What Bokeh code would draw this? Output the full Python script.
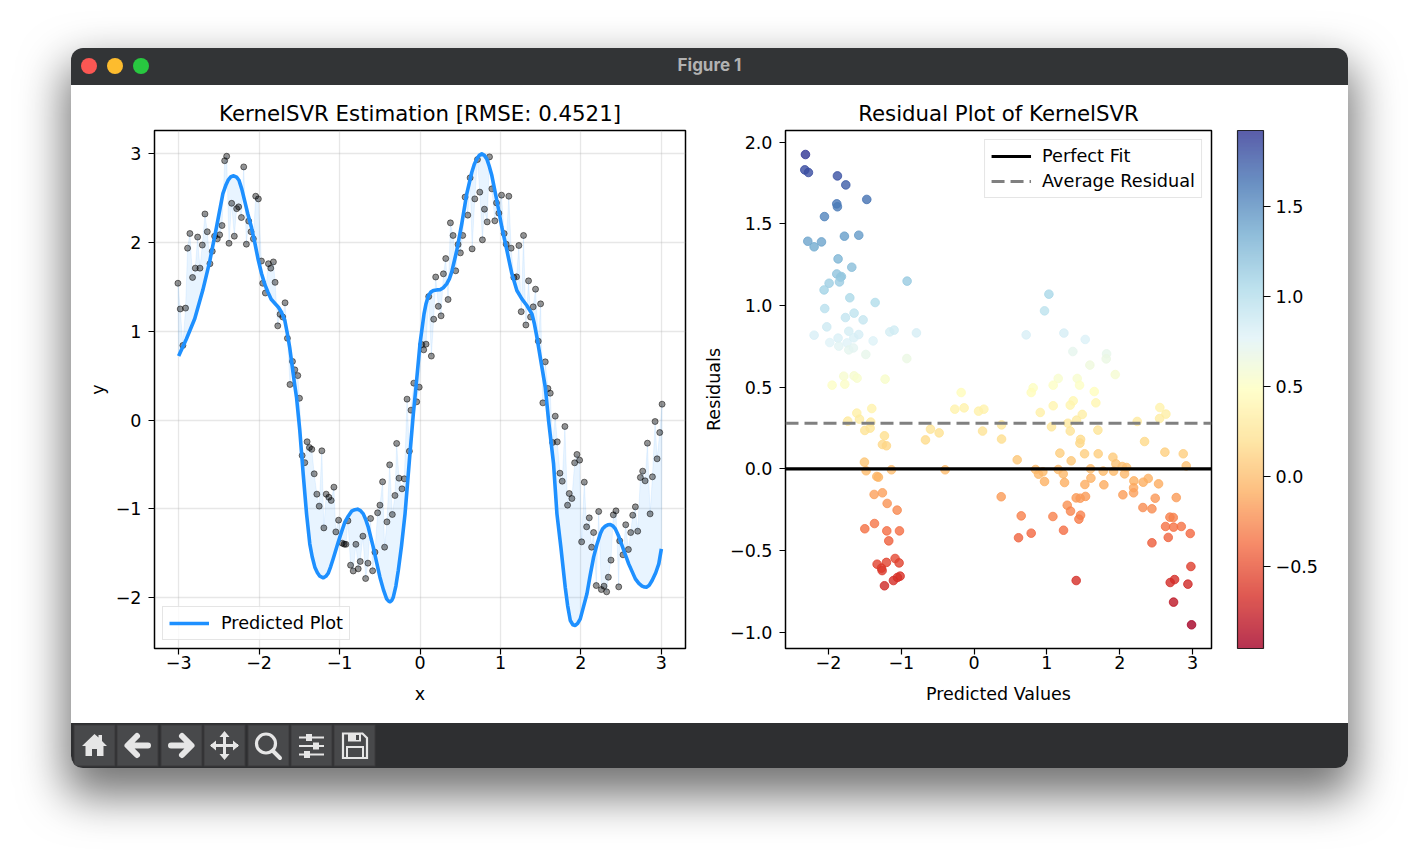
from bokeh.plotting import figure
from bokeh.layouts import column, row
from bokeh.models import (ColorBar, ColumnDataSource, Div, FixedTicker, Legend, LegendItem, LinearColorMapper, Range1d)
from bokeh.transform import transform
from bokeh.embed import file_html
from bokeh.resources import INLINE
import numpy as np

# ---- data ----
sample_x = [-3.009,-2.98,-2.947,-2.914,-2.889,-2.86,-2.827,-2.793,-2.764,-2.735,-2.706,-2.673,-2.644,-2.611,-2.582,-2.553,-2.519,-2.49,-2.461,-2.428,-2.403,-2.374,-2.341,-2.308,-2.279,-2.254,-2.22,-2.191,-2.158,-2.129,-2.10,-2.071,-2.042,-2.009,-1.971,-1.955,-1.922,-1.884,-1.855,-1.822,-1.801,-1.768,-1.739,-1.706,-1.677,-1.648,-1.616,-1.585,-1.556,-1.519,-1.498,-1.465,-1.432,-1.403,-1.374,-1.345,-1.315,-1.282,-1.253,-1.22,-1.195,-1.166,-1.133,-1.104,-1.07,-1.046,-1.012,-0.967,-0.942,-0.921,-0.896,-0.863,-0.83,-0.797,-0.768,-0.743,-0.71,-0.676,-0.647,-0.614,-0.589,-0.56,-0.527,-0.498,-0.465,-0.44,-0.411,-0.377,-0.344,-0.311,-0.29,-0.261,-0.224,-0.195,-0.161,-0.132,-0.112,-0.077,-0.041,-0.01,0.021,0.046,0.075,0.108,0.141,0.17,0.195,0.228,0.262,0.291,0.32,0.349,0.378,0.411,0.444,0.473,0.502,0.531,0.56,0.594,0.623,0.648,0.681,0.714,0.743,0.776,0.801,0.835,0.864,0.893,0.93,0.951,0.98,1.013,1.046,1.071,1.104,1.133,1.166,1.20,1.229,1.258,1.287,1.316,1.349,1.374,1.407,1.436,1.47,1.499,1.527,1.557,1.59,1.619,1.648,1.681,1.706,1.739,1.768,1.801,1.834,1.855,1.888,1.922,1.951,1.984,2.009,2.042,2.071,2.104,2.133,2.158,2.191,2.221,2.254,2.287,2.32,2.341,2.374,2.403,2.436,2.47,2.482,2.523,2.557,2.59,2.619,2.644,2.677,2.706,2.739,2.768,2.798,2.827,2.86,2.889,2.922,2.947,2.98,3.009]
sample_y = [1.54,1.25,0.84,1.26,1.935,2.10,1.605,1.71,2.06,1.71,1.97,2.32,2.12,1.76,1.90,2.07,2.04,2.085,2.19,2.92,2.97,1.99,2.44,2.07,2.38,2.40,2.28,2.85,1.98,2.24,2.12,2.04,2.52,2.49,1.79,1.54,1.43,1.76,1.71,1.78,1.55,1.06,1.19,1.16,1.32,0.92,0.40,0.66,0.565,0.50,0.245,-0.40,-0.48,-0.245,-0.31,-0.33,-0.606,-0.835,-0.97,-0.347,-1.215,-0.835,-0.87,-0.906,-0.756,-1.26,-1.128,-1.387,-1.398,-1.40,-1.135,-1.635,-1.70,-1.40,-1.676,-1.593,-1.308,-1.785,-1.612,-1.109,-1.698,-1.488,-1.045,-0.959,-0.696,-1.432,-1.147,-0.505,-1.064,-0.85,-0.264,-0.655,-0.775,-0.662,0.235,-0.351,0.111,0.415,0.205,0.37,0.85,0.79,0.854,1.39,0.72,1.135,1.61,1.28,1.173,1.646,1.818,1.357,2.22,2.078,1.68,1.976,1.882,2.078,2.51,2.307,2.727,1.927,2.49,2.933,2.566,2.029,2.374,2.231,2.963,2.603,2.243,2.445,2.329,2.532,2.10,1.98,2.52,1.935,1.605,1.612,1.965,1.22,2.078,1.07,1.567,1.16,1.274,1.473,0.888,1.308,0.193,0.655,0.355,0.302,-0.253,0.043,-0.246,-0.599,-0.689,-0.073,-0.959,-0.828,-0.884,-0.482,-0.388,-0.452,-1.372,-0.70,-1.203,-1.102,-1.432,-1.267,-1.864,-1.03,-1.909,-1.871,-1.935,-1.77,-1.578,-1.068,-1.023,-1.879,-1.361,-1.518,-1.18,-1.458,-1.267,-1.072,-0.978,-1.252,-0.647,-0.576,-0.685,-0.261,-1.057,-0.64,-0.017,-0.437,-0.141,0.178]

curve_x = [-3.0,-2.905,-2.80,-2.70,-2.615,-2.53,-2.45,-2.415,-2.385,-2.35,-2.316,-2.28,-2.25,-2.215,-2.18,-2.14,-2.095,-2.05,-2.01,-1.97,-1.93,-1.89,-1.85,-1.80,-1.76,-1.72,-1.68,-1.65,-1.62,-1.56,-1.535,-1.494,-1.452,-1.41,-1.37,-1.34,-1.307,-1.275,-1.245,-1.203,-1.17,-1.14,-1.11,-1.079,-1.017,-0.975,-0.934,-0.89,-0.85,-0.81,-0.776,-0.74,-0.705,-0.675,-0.643,-0.581,-0.54,-0.498,-0.455,-0.415,-0.39,-0.373,-0.35,-0.332,-0.30,-0.27,-0.23,-0.186,-0.132,-0.083,-0.05,0.0,0.05,0.075,0.104,0.135,0.166,0.21,0.249,0.29,0.332,0.365,0.394,0.457,0.519,0.581,0.644,0.675,0.706,0.737,0.768,0.80,0.83,0.86,0.893,0.955,1.017,1.08,1.142,1.204,1.266,1.328,1.391,1.42,1.453,1.515,1.557,1.598,1.66,1.702,1.751,1.805,1.835,1.868,1.90,1.93,1.96,1.992,2.03,2.075,2.115,2.158,2.20,2.241,2.27,2.304,2.335,2.366,2.40,2.428,2.47,2.511,2.594,2.677,2.72,2.76,2.79,2.814,2.85,2.885,2.93,2.968,3.0]
curve_y = [0.72,0.91,1.14,1.46,1.78,2.17,2.55,2.64,2.70,2.74,2.75,2.735,2.70,2.60,2.47,2.32,2.17,1.98,1.80,1.65,1.53,1.44,1.36,1.31,1.27,1.21,1.12,0.98,0.82,0.41,0.257,-0.118,-0.606,-1.057,-1.394,-1.54,-1.657,-1.72,-1.759,-1.777,-1.76,-1.725,-1.65,-1.563,-1.376,-1.26,-1.15,-1.08,-1.027,-1.01,-1.004,-1.02,-1.057,-1.12,-1.207,-1.432,-1.60,-1.77,-1.91,-2.014,-2.04,-2.047,-2.03,-1.995,-1.87,-1.695,-1.42,-1.057,-0.456,0.07,0.37,0.858,1.195,1.31,1.40,1.44,1.458,1.465,1.466,1.49,1.533,1.59,1.665,1.909,2.209,2.547,2.79,2.88,2.94,2.98,2.997,2.98,2.94,2.86,2.753,2.472,2.171,1.909,1.646,1.458,1.364,1.289,1.195,1.09,0.933,0.595,0.37,-0.005,-0.493,-1.057,-1.432,-1.883,-2.09,-2.258,-2.305,-2.314,-2.29,-2.239,-2.11,-1.957,-1.75,-1.544,-1.40,-1.282,-1.225,-1.195,-1.18,-1.177,-1.195,-1.226,-1.31,-1.413,-1.62,-1.789,-1.84,-1.871,-1.88,-1.882,-1.86,-1.807,-1.72,-1.62,-1.451]

pred_vals = [-2.316,-2.325,-2.275,-1.877,-1.762,-1.474,-1.886,-1.877,-2.055,-2.284,-2.096,-2.197,-1.781,-1.584,-1.868,-1.68,-1.886,-1.822,-1.835,-1.849,-1.991,-2.06,-0.92,-1.707,-1.359,-2.051,-1.767,-1.648,-1.524,-2.023,-2.197,-1.721,-1.868,-1.982,-1.858,-1.744,-1.652,-1.584,-1.387,-1.158,-1.098,-0.792,-1.721,-1.657,-1.487,-0.924,-1.79,-1.648,-1.607,-1.222,-1.95,-1.776,-0.178,
 -1.405,-1.611,-1.574,-1.735,-1.419,-1.428,-1.501,-1.231,-1.259,-1.204,-0.265,-0.137,-0.599,-0.48,-0.668,-1.506,-1.483,-1.135,-0.398,-1.336,-1.314,-1.373,-1.259,-1.194,-1.057,-1.501,-1.368,-1.199,-1.025,-1.172,-1.332,-1.204,-1.085,-1.03,-1.272,-1.263,-1.016,-1.053,-1.108,-1.231,
 1.027,0.967,0.715,1.233,1.526,1.356,1.819,1.814,1.59,1.938,1.155,1.416,1.448,1.086,0.811,0.784,1.65,1.672,1.361,1.32,1.086,2.551,0.134,0.061,0.908,1.485,2.634,1.407,2.547,2.24,1.288,0.377,1.063,1.32,1.7,0.116,0.377,1.462,1.453,2.341,1.178,1.517,1.704,2.62,2.872,1.906,0.592,1.333,1.947,2.034,2.094,2.913,0.844,1.155,1.599,0.944,0.885,1.224,1.773,1.915,2.066,0.967,1.242,1.604,1.521,1.782,2.194,2.391,2.322,2.533,2.19,2.19,2.043,0.372,1.402,1.457,1.53,2.487,2.776,1.279,2.318,2.442,1.324,0.647,1.082,1.462,1.439,2.689,2.735,1.228,0.784,0.61,2.629,2.739,2.845,2.968,2.666,2.442,2.977,1.402,2.753,2.693,2.936,2.739,2.986]
residuals = [1.925,1.831,1.815,1.794,1.739,1.65,1.623,1.605,1.545,1.394,1.39,1.36,1.425,1.431,1.286,1.235,1.194,1.178,1.174,1.145,1.137,1.096,1.15,1.048,1.019,0.982,0.927,0.954,0.913,0.87,0.819,0.843,0.801,0.774,0.752,0.772,0.803,0.823,0.784,0.839,0.85,0.833,0.729,0.741,0.701,0.676,0.568,0.57,0.556,0.55,0.513,0.519,0.468,
 0.37,0.342,0.305,0.293,0.287,0.25,0.236,0.203,0.15,0.142,0.366,0.374,0.244,0.221,0.178,0.042,-0.011,-0.005,-0.005,-0.046,-0.05,-0.156,-0.146,-0.211,-0.252,-0.366,-0.334,-0.379,-0.379,-0.44,-0.583,-0.572,-0.548,-0.575,-0.607,-0.622,-0.656,-0.664,-0.683,-0.715,
 1.07,0.968,0.821,0.832,0.793,0.719,0.705,0.674,0.636,0.578,0.554,0.554,0.513,0.513,0.497,0.468,0.474,0.405,0.417,0.391,0.387,0.376,0.366,0.354,0.346,0.334,0.336,0.299,0.309,0.291,0.28,0.27,0.258,0.232,0.238,0.232,0.183,0.181,0.158,0.168,0.097,0.093,0.093,0.103,0.093,0.072,0.056,0.05,0.032,0.015,0.009,0.019,-0.003,-0.003,0.001,-0.017,-0.032,-0.03,-0.013,-0.013,-0.03,-0.077,-0.083,-0.056,-0.095,-0.097,-0.073,-0.058,-0.081,-0.091,-0.115,-0.146,-0.158,-0.17,-0.177,-0.179,-0.168,-0.179,-0.175,-0.222,-0.236,-0.244,-0.258,-0.287,-0.291,-0.283,-0.307,-0.295,-0.297,-0.375,-0.393,-0.421,-0.352,-0.356,-0.352,-0.395,-0.419,-0.452,-0.597,-0.683,-0.677,-0.695,-0.705,-0.815,-0.954]
avg_residual = [0.28, 0.28]
perfect_fit = [0.0, 0.0]

left_xticks = [-3,-2,-1,0,1,2,3]
left_xlabels = ["\u22123","\u22122","\u22121","0","1","2","3"]
left_yticks = [-2,-1,0,1,2,3]
left_ylabels = ["\u22122","\u22121","0","1","2","3"]
right_xticks = [-2,-1,0,1,2,3]
right_xlabels = ["\u22122","\u22121","0","1","2","3"]
right_yticks = [-1.0,-0.5,0.0,0.5,1.0,1.5,2.0]
right_ylabels = ["\u22121.0","\u22120.5","0.0","0.5","1.0","1.5","2.0"]
cbar_ticks = [-0.5,0.0,0.5,1.0,1.5]
cbar_labels = ["\u22120.5","0.0","0.5","1.0","1.5"]

RX0, RX1 = -2.59, 3.26
BLUE = "#1e90ff"
FONT = "DejaVu Sans"
TICK = "17.5px"
LEG = "17.7px"

stops = ['#a50026','#d73027','#f46d43','#fdae61','#fee090','#ffffbf','#e0f3f8','#abd9e9','#74add1','#4575b4','#313695']
rgb = np.array([[int(s[i:i+2],16) for i in (1,3,5)] for s in stops], float)
pos = np.linspace(0,1,11)
t = np.linspace(0,1,256)
palette = ["#%02x%02x%02x" % tuple(int(round(np.interp(v,pos,rgb[:,c]))) for c in range(3)) for v in t]


def style(p, xt, xl, yt, yl, xlabel, ylabel, ylabel_standoff):
    p.outline_line_color = "black"; p.outline_line_width = 1.5
    p.title.text_font = FONT; p.title.text_font_size = "21.3px"; p.title.text_font_style = "normal"
    p.title.align = "center"; p.title.text_color = "black"; p.title.standoff = 9
    for ax, tk, lb, name in ((p.xaxis[0], xt, xl, xlabel), (p.yaxis[0], yt, yl, ylabel)):
        ax.ticker = FixedTicker(ticks=tk)
        ax.major_label_overrides = dict(zip(tk, lb))
        ax.axis_label = name
        ax.axis_label_text_font = FONT; ax.axis_label_text_font_size = TICK
        ax.axis_label_text_font_style = "normal"; ax.axis_label_text_color = "black"
        ax.major_label_text_font = FONT; ax.major_label_text_font_size = TICK
        ax.major_label_text_color = "black"
        ax.axis_line_color = None
        ax.major_tick_line_color = "black"; ax.major_tick_line_width = 1.2
        ax.major_tick_in = 0; ax.major_tick_out = 6
        ax.minor_tick_line_color = None
    p.xaxis[0].major_label_standoff = 1
    p.yaxis[0].major_label_standoff = 7
    p.xaxis[0].axis_label_standoff = 12
    p.yaxis[0].axis_label_standoff = ylabel_standoff


left = figure(width=620, height=638, min_border_left=83, min_border_right=6, min_border_top=45, min_border_bottom=75,
              x_range=Range1d(-3.3, 3.3), y_range=Range1d(-2.573, 3.26), output_backend="svg", toolbar_location=None,
              title="KernelSVR Estimation [RMSE: 0.4521]", background_fill_color="white", border_fill_color="white")
style(left, left_xticks, left_xlabels, left_yticks, left_ylabels, "x", "y", 5)
left.grid.grid_line_color = "#b0b0b0"; left.grid.grid_line_alpha = 0.3; left.grid.grid_line_width = 1.3
left.xgrid.ticker = FixedTicker(ticks=left_xticks); left.ygrid.ticker = FixedTicker(ticks=left_yticks)
left.patch(sample_x + curve_x[::-1], sample_y + curve_y[::-1], fill_color=BLUE, fill_alpha=0.1, line_color=BLUE, line_alpha=0.08, line_width=1)
left.scatter(sample_x, sample_y, size=6, fill_color="black", fill_alpha=0.42, line_color="black", line_alpha=0.5, line_width=1)
cl = left.line(curve_x, curve_y, line_color=BLUE, line_width=3.6, line_join="round")
leg = Legend(items=[LegendItem(label="Predicted Plot", renderers=[cl])], location="bottom_left")
leg.label_text_font = FONT; leg.label_text_font_size = LEG; leg.label_text_color = "black"
leg.glyph_width = 40; leg.glyph_height = 14; leg.margin = 8; leg.padding = 6; leg.label_standoff = 12
leg.border_line_color = "#cccccc"; leg.border_line_width = 1.2; leg.background_fill_alpha = 0.8
left.add_layout(leg)

right = figure(width=657, height=638, min_border_left=94, min_border_right=137, min_border_top=45, min_border_bottom=75,
               x_range=Range1d(RX0, RX1), y_range=Range1d(-1.099, 2.072), output_backend="svg", toolbar_location=None,
               title="Residual Plot of KernelSVR", background_fill_color="white", border_fill_color="white")
style(right, right_xticks, right_xlabels, right_yticks, right_ylabels, "Predicted Values", "Residuals", 3)
right.grid.grid_line_color = None
mapper = LinearColorMapper(palette=palette, low=-0.955, high=1.925)
src = ColumnDataSource(dict(x=pred_vals, y=residuals))
right.scatter("x", "y", source=src, size=8.6, fill_color=transform("y", mapper), line_color=transform("y", mapper),
              fill_alpha=0.8, line_alpha=0.8, line_width=1)
l1 = right.line([RX0, RX1], perfect_fit, line_color="black", line_width=3.2)
l2 = right.line([RX0, RX1], avg_residual, line_color="#808080", line_width=3.2, line_dash="13 6")
leg2 = Legend(items=[LegendItem(label="Perfect Fit", renderers=[l1]), LegendItem(label="Average Residual", renderers=[l2])], location="top_right")
leg2.label_text_font = FONT; leg2.label_text_font_size = LEG; leg2.label_text_color = "black"
leg2.glyph_width = 40; leg2.glyph_height = 14; leg2.margin = 9; leg2.padding = 6; leg2.label_standoff = 11; leg2.spacing = 5
leg2.border_line_color = "#cccccc"; leg2.border_line_width = 1.2; leg2.background_fill_alpha = 0.8
right.add_layout(leg2)

cb = ColorBar(color_mapper=mapper, width=26, ticker=FixedTicker(ticks=cbar_ticks), major_label_overrides=dict(zip(cbar_ticks, cbar_labels)),
              scale_alpha=0.8, bar_line_color="black", bar_line_width=1.2, major_tick_line_color="black", major_tick_in=0, major_tick_out=7,
              minor_tick_line_color=None, major_label_text_font=FONT, major_label_text_font_size=TICK, major_label_text_color="black",
              label_standoff=5, padding=0, margin=0, location=(26, 0), background_fill_alpha=0, border_line_color=None)
right.add_layout(cb, "right")

# ---- window chrome ----
dots = [("#fc5753", 10), ("#fdbc2e", 36), ("#28c840", 62)]
dot_html = "".join(f'<span style="position:absolute;left:{x}px;top:10px;width:16px;height:16px;border-radius:50%;background:{c}"></span>' for c, x in dots)
bar = Div(text=f'<div style="position:relative;width:1277px;height:37px;background:#323436">{dot_html}'
               '<span style="position:absolute;left:0;width:1277px;top:7px;text-align:center;color:#b2b2b2;font:700 17px Inter,Roboto,sans-serif">Figure 1</span></div>',
          width=1277, height=37, margin=0)

I = "#e6e6e6"
icons = [
 f'<path d="M20.5 9L8 21h3.5v10h6.5v-7h5v7h6.5V21H33L28 16V10h-3.5v2.6z" fill="{I}"/>',
 f'<path d="M31 20.5H12M20 11l-9.500 9.500L20 30" fill="none" stroke="{I}" stroke-width="6" stroke-linecap="round" stroke-linejoin="round"/>',
 f'<path d="M10 20.500H29M21 11l9.500 9.500L21 30" fill="none" stroke="{I}" stroke-width="6" stroke-linecap="round" stroke-linejoin="round"/>',
 f'<path d="M20.500 9V32M7 20.500H34" stroke="{I}" stroke-width="3"/><path d="M20.500 6l5 6h-10zM20.500 35l5-6h-10zM6 20.500l6-5v10zM35 20.500l-6-5v10z" fill="{I}"/>',
 f'<circle cx="18" cy="18.500" r="9.500" fill="none" stroke="{I}" stroke-width="3.200"/><path d="M25 26l7 7" stroke="{I}" stroke-width="4" stroke-linecap="round"/>',
 f'<path d="M8 12.500H33M8 21H33M8 29.500H33" stroke="{I}" stroke-width="1.800"/><rect x="15" y="9" width="6" height="7" fill="{I}"/><rect x="22" y="17.500" width="6" height="7" fill="{I}"/><rect x="13" y="26" width="6" height="7" fill="{I}"/>',
 f'<path d="M9 8.500H28.500L33 13V33H9z" fill="none" stroke="{I}" stroke-width="2.200"/><rect x="14" y="8.500" width="13" height="8" fill="{I}"/><rect x="22" y="10" width="3" height="5" fill="#48494b"/><rect x="13" y="22" width="16" height="11" fill="none" stroke="{I}" stroke-width="2"/>',
]
lefts = [3, 46, 90, 133, 177, 220, 263]
btn = "".join(f'<g transform="translate({x},2)"><rect width="41" height="41" fill="#48494b" stroke="#3a3b3d"/>{g}</g>' for x, g in zip(lefts, icons))
tool = Div(text=f'<svg width="1277" height="45" style="display:block;background:#2e2f31">{btn}</svg>', width=1277, height=45, margin=0)

win = column(bar, row(left, right, spacing=0, margin=0), tool, spacing=0, margin=(48, 0, 0, 71),
             styles={"box-shadow": "0 22px 45px 6px rgba(0,0,0,0.55)", "border-radius": "12px", "overflow": "hidden", "background": "white"})
open("out.html", "w").write(file_html(win, INLINE))
